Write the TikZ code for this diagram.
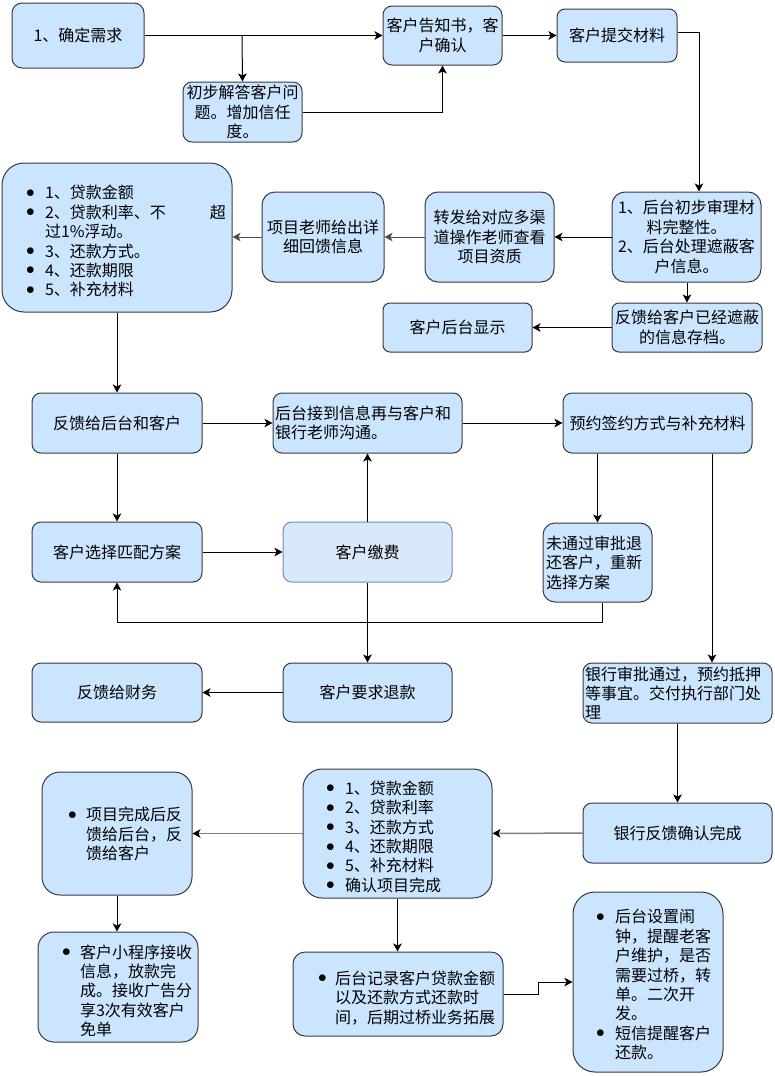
\documentclass[tikz,border=0pt]{standalone}
\usepackage{fontspec}
\setmainfont{Noto Sans CJK SC}
\usetikzlibrary{arrows.meta}
\definecolor{bfill}{HTML}{CCE5FF}
\definecolor{bline}{HTML}{36393D}
\definecolor{lfill}{HTML}{DAE8FC}
\definecolor{lline}{HTML}{6C8EBF}
\definecolor{garr}{HTML}{808080}
\definecolor{darr}{HTML}{4D4D4D}
\newcommand{\fs}{\fontsize{16pt}{19.4pt}\selectfont}
\newcommand{\bul}[1]{\makebox[#1][l]{\raisebox{1.5pt}{$\bullet$}}}
\newcommand{\low}[2]{\raisebox{-#1}[\height][\depth]{#2}}
\begin{document}
\begin{tikzpicture}[x=1pt,y=-1pt,
  box/.style={draw=bline, fill=bfill, line width=1pt, inner sep=0pt, align=center, font=\fs},
  lbox/.style={box, align=left},
  lightbox/.style={box, draw=lline, fill=lfill},
  arr/.style={draw=black, line width=1pt, -{Stealth[length=8pt,width=8.5pt,inset=2pt]}},
  darrow/.style={draw=darr, line width=1pt, -{Stealth[length=8pt,width=8.5pt,inset=2pt,color=darr]}},
  garrow/.style={draw=garr, line width=1.5pt, -{Stealth[length=8pt,width=8.5pt,inset=2pt,color=black]}}]
\useasboundingbox (0,0) rectangle (775,1076);

% nodes
\node[box, minimum width=132pt, minimum height=65pt, rounded corners=10pt] (n1) at (78,35.5) {1、确定需求};
\node[box, minimum width=119pt, minimum height=60pt, rounded corners=9pt] (n2) at (242.5,112) {初步解答客户问\\题。增加信任\\度。};
\node[box, minimum width=119pt, minimum height=59pt, rounded corners=9pt] (n3) at (442.5,35.5) {客户告知书，客\\户确认};
\node[box, minimum width=120pt, minimum height=53pt, rounded corners=8pt] (n4) at (617,35.5) {客户提交材料};
\node[box, minimum width=149pt, minimum height=90pt, rounded corners=13pt] (n5) at (686.5,237) {1、后台初步审理材\\料完整性。\\2、后台处理遮蔽客\\户信息。};
\node[box, minimum width=150pt, minimum height=49pt, rounded corners=7pt] (n6) at (687,327.5) {反馈给客户已经遮蔽\\的信息存档。};
\node[box, minimum width=149pt, minimum height=49pt, rounded corners=7pt] (n7) at (457.5,327.5) {客户后台显示};
\node[box, minimum width=129pt, minimum height=90pt, rounded corners=13pt] (n8) at (489.5,237) {转发给对应多渠\\道操作老师查看\\项目资质};
\node[box, minimum width=122pt, minimum height=90pt, rounded corners=13pt] (n9) at (323,237) {项目老师给出详\\细回馈信息};
\node[box, align=left, text width=230pt, minimum width=230pt, minimum height=149pt, rounded corners=22pt] (n10) at (117,237.5)
 {\hspace*{24pt}\low{6pt}{\begin{tabular}{@{}l@{}l@{}}
 \bul{19pt}&1、贷款金额\\
 \bul{19pt}&\makebox[181pt][l]{2、贷款利率、不\hfill 超}\\
 &过1\%浮动。\\
 \bul{19pt}&3、还款方式。\\
 \bul{19pt}&4、还款期限\\
 \bul{19pt}&5、补充材料
 \end{tabular}}};
\node[box, minimum width=170pt, minimum height=60pt, rounded corners=9pt] (n11) at (117,423) {反馈给后台和客户};
\node[lbox, text width=185pt, minimum width=189pt, minimum height=60pt, rounded corners=9pt] (n12) at (367.5,423) {\low{2pt}{\begin{tabular}{@{}l@{}}后台接到信息再与客户和\\银行老师沟通。\end{tabular}}};
\node[box, minimum width=189pt, minimum height=60pt, rounded corners=9pt] (n13) at (657.5,423) {预约签约方式与补充材料};
\node[box, minimum width=170pt, minimum height=60pt, rounded corners=9pt] (n14) at (117,552) {客户选择匹配方案};
\node[lightbox, minimum width=169pt, minimum height=60pt, rounded corners=9pt] (n15) at (367.5,552) {客户缴费};
\node[lbox, text width=103pt, minimum width=109pt, minimum height=79pt, rounded corners=12pt] (n16) at (597.5,562.5) {未通过审批退\\还客户，重新\\选择方案};
\node[lbox, text width=185pt, minimum width=189pt, minimum height=60pt, rounded corners=9pt] (n17) at (677.5,693) {银行审批通过，预约抵押\\等事宜。交付执行部门处\\理};
\node[box, minimum width=169pt, minimum height=59pt, rounded corners=9pt] (n18) at (367.5,692.5) {客户要求退款};
\node[box, minimum width=170pt, minimum height=59pt, rounded corners=9pt] (n19) at (117,692.5) {反馈给财务};
\node[box, minimum width=189pt, minimum height=60pt, rounded corners=9pt] (n20) at (677.5,833) {银行反馈确认完成};
\node[box, align=left, text width=189pt, minimum width=189pt, minimum height=129pt, rounded corners=19pt] (n21) at (397.5,833.5)
 {\hspace*{23pt}\low{5.5pt}{\begin{tabular}{@{}l@{}l@{}}
 \bul{19pt}&1、贷款金额\\
 \bul{19pt}&2、贷款利率\\
 \bul{19pt}&3、还款方式\\
 \bul{19pt}&4、还款期限\\
 \bul{19pt}&5、补充材料\\
 \bul{19pt}&确认项目完成
 \end{tabular}}};
\node[box, align=left, text width=150pt, minimum width=150pt, minimum height=123pt, rounded corners=18pt] (n22) at (117,833.5)
 {\hspace*{26pt}\low{3pt}{\begin{tabular}{@{}l@{}l@{}}
 \bul{18pt}&项目完成后反\\
 &馈给后台，反\\
 &馈给客户
 \end{tabular}}};
\node[box, align=left, text width=160pt, minimum width=160pt, minimum height=110pt, rounded corners=16pt] (n23) at (118,987)
 {\hspace*{24pt}\low{6pt}{\begin{tabular}{@{}l@{}l@{}}
 \bul{18pt}&客户小程序接收\\
 &信息，放款完\\
 &成。接收广告分\\
 &享3次有效客户\\
 &免单
 \end{tabular}}};
\node[box, align=left, text width=210pt, minimum width=210pt, minimum height=84pt, rounded corners=12pt] (n24) at (398,994)
 {\hspace*{25pt}\low{6pt}{\begin{tabular}{@{}l@{}l@{}}
 \bul{17pt}&后台记录客户贷款金额\\
 &以及还款方式还款时\\
 &间，后期过桥业务拓展
 \end{tabular}}};
\node[box, align=left, text width=150pt, minimum width=150pt, minimum height=180pt, rounded corners=22pt] (n25) at (648,982)
 {\hspace*{23pt}\low{5pt}{\begin{tabular}{@{}l@{}l@{}}
 \bul{19pt}&后台设置闹\\
 &钟，提醒老客\\
 &户维护，是否\\
 &需要过桥，转\\
 &单。二次开\\
 &发。\\
 \bul{19pt}&短信提醒客户\\
 &还款。
 \end{tabular}}};

% junction coordinates
\coordinate (j1) at (242,35.5);
\coordinate (c1) at (602,622);

% connectors
\draw[arr] (n1) -- (n3);
\draw[arr] (j1) -- (n2.north);
\draw[arr] (n2.east) -| (n3.south);
\draw[arr] (n3) -- (n4);
\draw[arr] ([yshift=3.5pt]n4.east) -| ([xshift=12.5pt]n5.north);
\draw[arr] (n6.north |- n5.south) -- (n6.north);
\draw[arr] (n6) -- (n7);
\draw[arr] (n5) -- (n8);
\draw[darrow] (n8) -- (n9);
\draw[darrow] (n9.west) -- (n10.east |- n9.west);
\draw[arr] (n10.south) -- (n11.north);
\draw[arr] (n11) -- (n12);
\draw[arr] (n12) -- (n13);
\draw[arr] (n11) -- (n14);
\draw[arr] (n14) -- (n15);
\draw[arr] (n15) -- (n12);
\draw[arr] (n15) -- (n18);
\draw[arr] (n16.north |- n13.south) -- (n16.north);
\draw[arr] (n16.south -| c1) -- (c1) -| (n14.south);
\draw[arr] ([xshift=54.5pt]n13.south) -- ([xshift=34.5pt]n17.north);
\draw[arr] (n17) -- (n20);
\draw[arr] (n18) -- (n19);
\draw[garrow] (n20) -- (n21);
\draw[garrow] (n21.west) -- (n22.east |- n21.west);
\draw[arr] (n21.south) -- (n24.north -| n21.south);
\draw[arr] (n22.south) -- (n23.north -| n22.south);
\draw[arr] (n24.east) -- ++(35,0) |- (n25.west);
\end{tikzpicture}
\end{document}
